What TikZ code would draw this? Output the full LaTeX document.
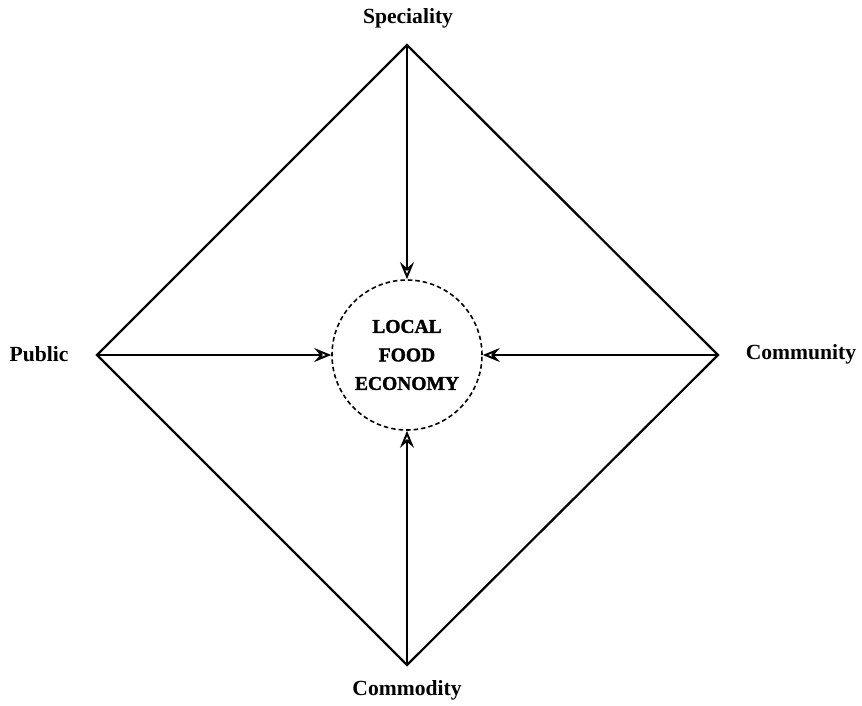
\documentclass[tikz,border=0pt]{standalone}
\usepackage{fontspec}
\setmainfont{Liberation Serif}
\newfontfamily\hubfont[FakeBold=1.6]{Liberation Serif Bold}
\usetikzlibrary{arrows.meta}
\tikzset{
  edge/.style={line width=2.2pt, line join=miter},
  arr/.style={line width=2.2pt, -{Stealth[open, length=17pt, width=14pt, inset=6pt, line width=2pt]}},
  lbl/.style={font=\fontsize{21.6}{26}\selectfont\bfseries, inner sep=0pt},
  hub/.style={circle, draw, line width=1.6pt, dash pattern=on 4.5pt off 3pt, minimum size=150pt, inner sep=0pt, align=center, font=\hubfont\fontsize{19.5}{28.5}\selectfont}
}
\begin{document}
\begin{tikzpicture}[x=1pt,y=-1pt]
\useasboundingbox (0,0) rectangle (862,705);
\coordinate (T) at (407,45);
\coordinate (L) at (97,355);
\coordinate (R) at (718,355);
\coordinate (B) at (407,665);
\draw[edge] (T) -- (R) -- (B) -- (L) -- cycle;
\node[hub] (c) at (407,355) {LOCAL\\FOOD\\ECONOMY};
\draw[arr] (T) -- (c.north);
\draw[arr] (L) -- (c.west);
\draw[arr] (R) -- (c.east);
\draw[arr] (B) -- (c.south);
\node[lbl] (ts) at (408,18) {Speciality};
\node[lbl] (ls) at (39,354) {Public};
\node[lbl] (rs) at (801,354) {Community};
\node[lbl] (bs) at (407,690) {Commodity};
\end{tikzpicture}
\end{document}
